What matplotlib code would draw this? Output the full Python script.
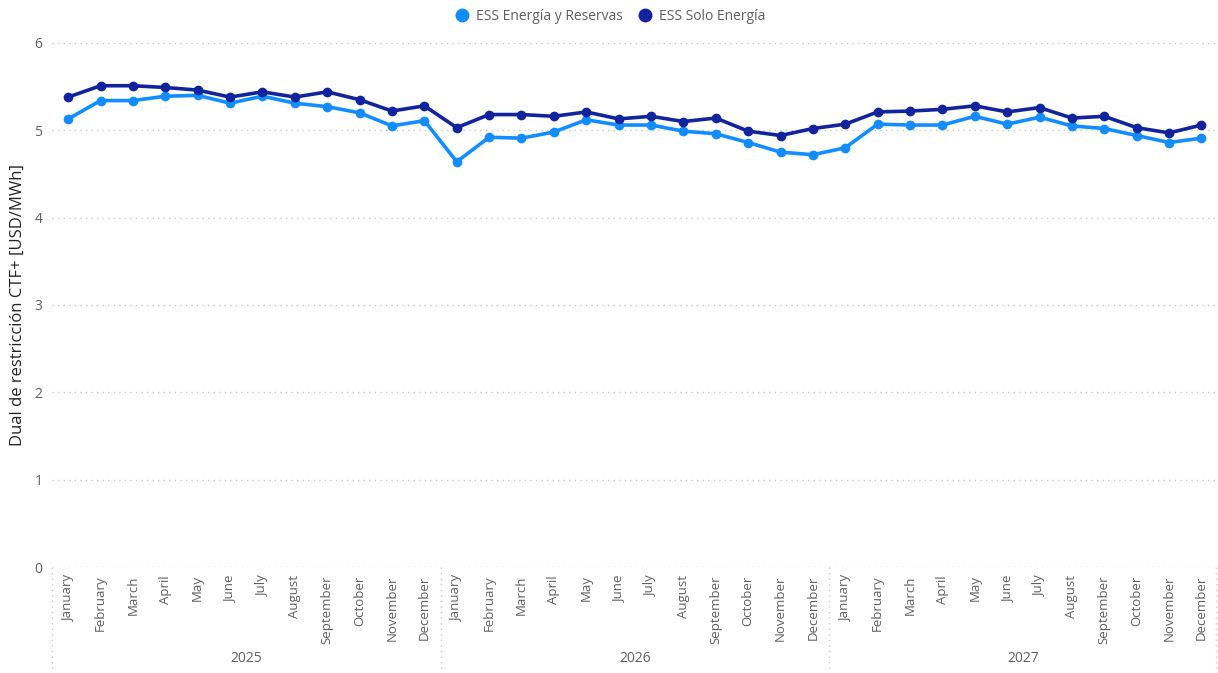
import matplotlib
matplotlib.use('Agg')
import matplotlib.pyplot as plt
from matplotlib.lines import Line2D

plt.rcParams['font.family'] = ['Open Sans', 'DejaVu Sans']

years = ['2025', '2026', '2027']
months = ['January', 'February', 'March', 'April', 'May', 'June', 'July',
          'August', 'September', 'October', 'November', 'December']

# ESS Energía y Reservas
energia_reservas = [5.13, 5.34, 5.34, 5.39, 5.40, 5.31, 5.39, 5.31, 5.27, 5.20, 5.05, 5.11,
                    4.64, 4.92, 4.91, 4.98, 5.12, 5.06, 5.06, 4.99, 4.96, 4.86, 4.75, 4.72,
                    4.80, 5.07, 5.06, 5.06, 5.16, 5.07, 5.15, 5.05, 5.02, 4.94, 4.86, 4.91]
# ESS Solo Energía
solo_energia = [5.38, 5.51, 5.51, 5.49, 5.46, 5.38, 5.44, 5.38, 5.44, 5.35, 5.22, 5.28,
                5.03, 5.18, 5.18, 5.16, 5.21, 5.13, 5.16, 5.10, 5.14, 4.99, 4.94, 5.02,
                5.07, 5.21, 5.22, 5.24, 5.28, 5.21, 5.26, 5.14, 5.16, 5.03, 4.97, 5.06]

c_light = '#118DFF'
c_dark = '#12239E'
txt = '#605E5C'

fig = plt.figure(figsize=(12.18, 6.73), dpi=100)
ax = fig.add_axes([0.0427, 0.1575, 0.957, 0.7787])

x = list(range(len(months) * len(years)))
ax.plot(x, energia_reservas, color=c_light, lw=2.6, marker='o', ms=6, zorder=3)
ax.plot(x, solo_energia, color=c_dark, lw=2.6, marker='o', ms=6, zorder=4)

ax.set_xlim(-0.5, len(x) - 0.5)
ax.set_ylim(0, 6)
ax.set_yticks(range(0, 7))
ax.yaxis.grid(True, color='#C8C6C4', linestyle=(0, (1, 3)), lw=1)
ax.tick_params(axis='y', length=0, labelsize=10, labelcolor=txt, pad=7)
for s in ax.spines.values():
    s.set_visible(False)

ax.set_xticks(x)
ax.set_xticklabels(months * len(years), rotation=90, fontsize=9.5, color=txt, va='top')
ax.tick_params(axis='x', length=0, pad=6)

ax.set_ylabel('Dual de restricción CTF+ [USD/MWh]', fontsize=12, color='#252423', labelpad=6)

# year separators and group labels under the month ticks
trans = ax.get_xaxis_transform()
for i, yr in enumerate(years):
    left = i * 12 - 0.5
    ax.plot([left, left], [0, -0.2], transform=trans, color='#C8C6C4',
            linestyle=(0, (1, 3)), lw=1, clip_on=False)
    ax.text(i * 12 + 5.5, -0.175, yr, transform=trans, ha='center', va='center',
            fontsize=10, color=txt)
ax.plot([len(x) - 0.55] * 2, [0, -0.2], transform=trans, color='#C8C6C4',
        linestyle=(0, (1, 3)), lw=1, clip_on=False)

handles = [Line2D([], [], color=c_light, marker='o', ls='', ms=9),
           Line2D([], [], color=c_dark, marker='o', ls='', ms=9)]
fig.legend(handles, ['ESS Energía y Reservas', 'ESS Solo Energía'], loc='center',
           bbox_to_anchor=(0.498, 0.975), ncol=2, frameon=False, fontsize=10,
           handletextpad=0.0, columnspacing=0.6, labelcolor=txt)

fig.savefig('out.png', dpi=100)
